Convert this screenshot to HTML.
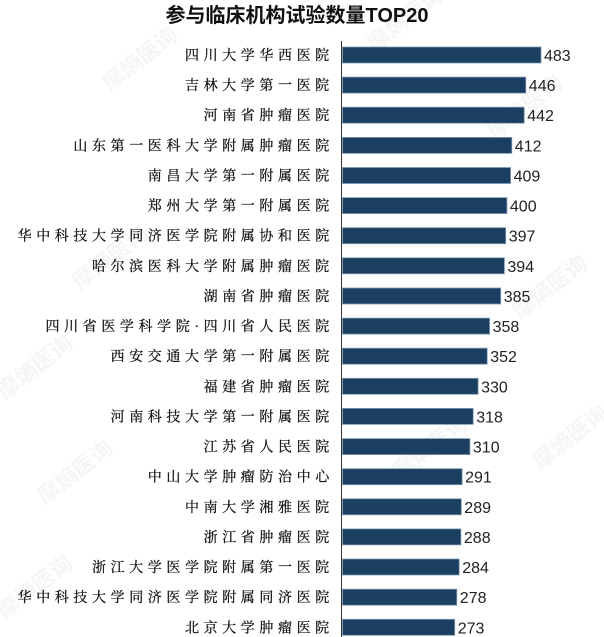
<!DOCTYPE html>
<html><head><meta charset="utf-8"><style>
html,body{margin:0;padding:0;background:#fff;}
svg{display:block;}
.lb{font-family:"Liberation Serif","Noto Serif CJK SC",serif;font-size:14px;letter-spacing:4.6px;fill:#111;stroke:#111;stroke-width:0.25px;}
.v{font-family:"Liberation Sans",sans-serif;font-size:16px;fill:#222;}
.wm{font-family:"Liberation Sans","Noto Sans CJK SC",sans-serif;font-size:22px;font-weight:bold;fill:#f5f5f5;}
</style></head><body>
<svg width="604" height="637" viewBox="0 0 604 637" xmlns="http://www.w3.org/2000/svg">
<rect width="604" height="637" fill="#fff"/>
<g class="wm">
<text transform="translate(110,92) rotate(-38)">摩熵医询</text>
<text transform="translate(375,52) rotate(-38)">摩熵医询</text>
<text transform="translate(495,140) rotate(-38)">摩熵医询</text>
<text transform="translate(5,400) rotate(-38)">摩熵医询</text>
<text transform="translate(45,505) rotate(-38)">摩熵医询</text>
<text transform="translate(520,320) rotate(-38)">摩熵医询</text>
<text transform="translate(400,480) rotate(-38)">摩熵医询</text>
<text transform="translate(5,620) rotate(-38)">摩熵医询</text>
<text transform="translate(80,290) rotate(-38)">摩熵医询</text>
<text transform="translate(540,470) rotate(-38)">摩熵医询</text>
</g>
<text x="297" y="22" text-anchor="middle" font-family="'Liberation Sans','Noto Sans CJK SC',sans-serif" font-size="20" font-weight="bold" fill="#111">参与临床机构试验数量TOP20</text>
<line x1="341.5" y1="41" x2="341.5" y2="637" stroke="#333" stroke-width="1"/>
<g id="bars" fill="#1b3f60" stroke="#7f9ab2" stroke-width="0.8">
<rect x="342.5" y="47" width="198.5" height="16"/>
<rect x="342.5" y="77.1" width="183.3" height="16"/>
<rect x="342.5" y="107.2" width="181.7" height="16"/>
<rect x="342.5" y="137.4" width="169.3" height="16"/>
<rect x="342.5" y="167.5" width="168.1" height="16"/>
<rect x="342.5" y="197.6" width="164.4" height="16"/>
<rect x="342.5" y="227.7" width="163.2" height="16"/>
<rect x="342.5" y="257.8" width="161.9" height="16"/>
<rect x="342.5" y="288" width="158.2" height="16"/>
<rect x="342.5" y="318.1" width="147.1" height="16"/>
<rect x="342.5" y="348.2" width="144.7" height="16"/>
<rect x="342.5" y="378.3" width="135.6" height="16"/>
<rect x="342.5" y="408.4" width="130.7" height="16"/>
<rect x="342.5" y="438.6" width="127.4" height="16"/>
<rect x="342.5" y="468.7" width="119.6" height="16"/>
<rect x="342.5" y="498.8" width="118.8" height="16"/>
<rect x="342.5" y="528.9" width="118.4" height="16"/>
<rect x="342.5" y="559" width="116.7" height="16"/>
<rect x="342.5" y="589.2" width="114.3" height="16"/>
<rect x="342.5" y="619.3" width="112.2" height="16"/>
</g>
<g class="lb" text-anchor="end">
<text x="333.8" y="60">四川大学华西医院</text>
<text x="333.8" y="90.1">吉林大学第一医院</text>
<text x="333.8" y="120.2">河南省肿瘤医院</text>
<text x="333.8" y="150.4">山东第一医科大学附属肿瘤医院</text>
<text x="333.8" y="180.5">南昌大学第一附属医院</text>
<text x="333.8" y="210.6">郑州大学第一附属医院</text>
<text x="333.8" y="240.7">华中科技大学同济医学院附属协和医院</text>
<text x="333.8" y="270.8">哈尔滨医科大学附属肿瘤医院</text>
<text x="333.8" y="301">湖南省肿瘤医院</text>
<text x="333.8" y="331.1">四川省医学科学院·四川省人民医院</text>
<text x="333.8" y="361.2">西安交通大学第一附属医院</text>
<text x="333.8" y="391.3">福建省肿瘤医院</text>
<text x="333.8" y="421.4">河南科技大学第一附属医院</text>
<text x="333.8" y="451.6">江苏省人民医院</text>
<text x="333.8" y="481.7">中山大学肿瘤防治中心</text>
<text x="333.8" y="511.8">中南大学湘雅医院</text>
<text x="333.8" y="541.9">浙江省肿瘤医院</text>
<text x="333.8" y="572">浙江大学医学院附属第一医院</text>
<text x="333.8" y="602.2">华中科技大学同济医学院附属同济医院</text>
<text x="333.8" y="632.3">北京大学肿瘤医院</text>
</g>
<g class="v">
<text x="544" y="61">483</text>
<text x="528.8" y="91.1">446</text>
<text x="527.2" y="121.2">442</text>
<text x="514.8" y="151.4">412</text>
<text x="513.6" y="181.5">409</text>
<text x="509.9" y="211.6">400</text>
<text x="508.7" y="241.7">397</text>
<text x="507.4" y="271.8">394</text>
<text x="503.7" y="302">385</text>
<text x="492.6" y="332.1">358</text>
<text x="490.2" y="362.2">352</text>
<text x="481.1" y="392.3">330</text>
<text x="476.2" y="422.4">318</text>
<text x="472.9" y="452.6">310</text>
<text x="465.1" y="482.7">291</text>
<text x="464.3" y="512.8">289</text>
<text x="463.9" y="542.9">288</text>
<text x="462.2" y="573">284</text>
<text x="459.8" y="603.2">278</text>
<text x="457.7" y="633.3">273</text>
</g>
</svg>
</body></html>
